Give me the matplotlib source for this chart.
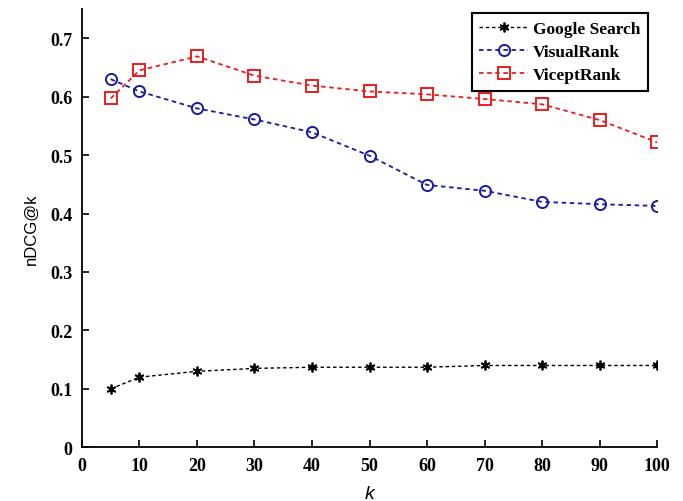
import numpy as np
import matplotlib.pyplot as plt

k = [5, 10, 20, 30, 40, 50, 60, 70, 80, 90, 100]
google = [0.100, 0.120, 0.130, 0.135, 0.137, 0.137, 0.137, 0.140, 0.140, 0.140, 0.140]
visual = [0.630, 0.609, 0.580, 0.561, 0.539, 0.499, 0.449, 0.439, 0.420, 0.416, 0.413]
vicept = [0.597, 0.645, 0.669, 0.636, 0.619, 0.609, 0.604, 0.596, 0.587, 0.560, 0.522]

fig = plt.figure(figsize=(6.83, 5.02), dpi=100)
ax = fig.add_axes([0.12, 0.107, 0.842, 0.873])

ls = (0, (2.5, 2))
ax.plot(k, google, color='black', linestyle=ls, lw=1.0, marker=(6, 2, 0), ms=7,
        mew=1.3, label='Google Search')
ax.plot(k, visual, color='#1a1aa0', linestyle=ls, lw=1.3, marker='o', ms=8,
        mfc='none', mew=1.4, label='VisualRank')
ax.plot(k, vicept, color='#ee1c1c', linestyle=ls, lw=1.3, marker='s', ms=8,
        mfc='none', mew=1.4, label='ViceptRank')

ax.set_xlim(0, 100)
ax.set_ylim(0, 0.75)
ax.set_xticks(np.arange(0, 101, 10))
ax.set_yticks([0, 0.1, 0.2, 0.3, 0.4, 0.5, 0.6, 0.7])
ax.set_yticklabels(['0', '0.1', '0.2', '0.3', '0.4', '0.5', '0.6', '0.7'])
ax.tick_params(direction='in', length=5, width=1.2, labelsize=13, pad=7)
for lab in ax.get_xticklabels() + ax.get_yticklabels():
    lab.set_fontfamily('Liberation Serif')
    lab.set_fontweight('bold')

ax.spines['top'].set_visible(False)
ax.spines['right'].set_visible(False)
ax.spines['left'].set_linewidth(1.3)
ax.spines['bottom'].set_linewidth(1.3)

ax.set_xlabel('k', fontsize=14, fontstyle='italic', family='Liberation Sans', labelpad=8)
ax.set_ylabel('nDCG@k', fontsize=12, family='Liberation Sans', labelpad=8)

leg = ax.legend(loc='upper right', prop={'family': 'Liberation Serif', 'weight': 'bold', 'size': 12.5},
                fancybox=False, edgecolor='black', framealpha=1, handlelength=2.8,
                borderpad=0.45, labelspacing=0.4, handletextpad=0.3,
                bbox_to_anchor=(1.0, 1.01))
leg.get_frame().set_linewidth(1.5)

fig.savefig('out.png', dpi=100)
